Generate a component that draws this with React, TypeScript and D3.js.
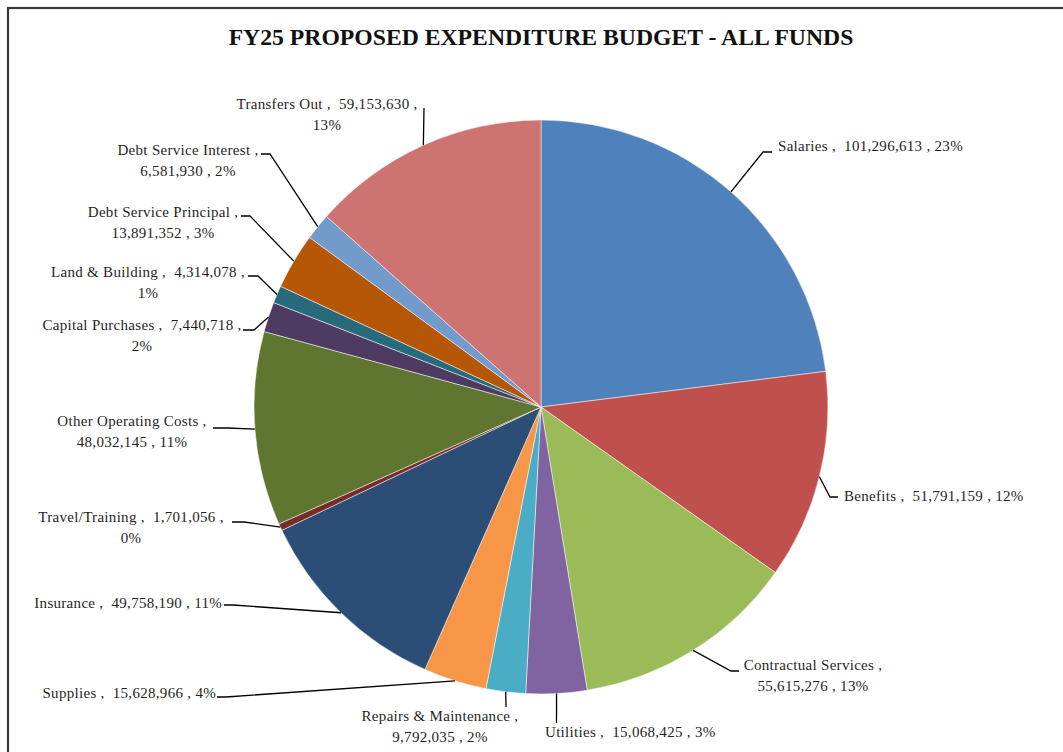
import React from "react";
import * as d3 from "d3";

const title = "FY25 PROPOSED EXPENDITURE BUDGET - ALL FUNDS";
const categories = [
  "Salaries", "Benefits", "Contractual Services", "Utilities", "Repairs & Maintenance",
  "Supplies", "Insurance", "Travel/Training", "Other Operating Costs", "Capital Purchases",
  "Land & Building", "Debt Service Principal", "Debt Service Interest", "Transfers Out",
];
const values = [
  101296613, 51791159, 55615276, 15068425, 9792035,
  15628966, 49758190, 1701056, 48032145, 7440718,
  4314078, 13891352, 6581930, 59153630,
];
const pctLabels = ["23%", "12%", "13%", "3%", "2%", "4%", "11%", "0%", "11%", "2%", "1%", "3%", "2%", "13%"];
const colors = [
  "#4F81BD", "#C0504D", "#9BBB59", "#8064A2", "#4BACC6",
  "#F79646", "#2C4D75", "#772C2A", "#5F7530", "#4D3B62",
  "#276A7C", "#B65708", "#729ACA", "#CD7371",
];

// label layout: text position, alignment, line break, leader elbow/end
type Layout = { x: number; y: number; anchor: string; brk: "none" | "name" | "value"; pts: [number, number][] };
const layout: Layout[] = [
  { x: 778, y: 146, anchor: "start", brk: "none", pts: [[763, 152], [772, 152]] },
  { x: 844, y: 496, anchor: "start", brk: "none", pts: [[830, 497], [838, 497]] },
  { x: 813, y: 665, anchor: "middle", brk: "name", pts: [[731, 671], [739, 671]] },
  { x: 545, y: 732, anchor: "start", brk: "none", pts: [[556.5, 723]] },
  { x: 440, y: 716, anchor: "middle", brk: "name", pts: [[506, 707]] },
  { x: 216, y: 693, anchor: "end", brk: "none", pts: [[226, 697], [217, 697]] },
  { x: 222, y: 603, anchor: "end", brk: "none", pts: [[233, 605], [224, 605]] },
  { x: 131, y: 517, anchor: "middle", brk: "value", pts: [[244, 522], [232, 522]] },
  { x: 132, y: 421, anchor: "middle", brk: "name", pts: [[228, 428], [213, 428]] },
  { x: 142, y: 325, anchor: "middle", brk: "value", pts: [[254, 330], [243, 330]] },
  { x: 148, y: 272, anchor: "middle", brk: "value", pts: [[258, 276], [248, 276]] },
  { x: 163, y: 212, anchor: "middle", brk: "name", pts: [[250, 216], [241, 216]] },
  { x: 188, y: 150, anchor: "middle", brk: "name", pts: [[270, 154], [261, 154]] },
  { x: 327, y: 104, anchor: "middle", brk: "value", pts: [[424, 108]] },
];

const W = 1063, H = 752;
const cx = 541, cy = 407, R = 287;
const font = "'Liberation Serif', 'Times New Roman', serif";
const textColor = "#1f1f1f";

export default function App() {
  const fmt = d3.format(",");
  const pie = d3.pie<number>().sort(null).value((d) => d)(values);
  const arc = d3.arc<d3.PieArcDatum<number>>().innerRadius(0).outerRadius(R);

  return (
    <svg width={W} height={H} style={{ position: "absolute", left: 0, top: 0, background: "#fff" }}>
      <rect x={8} y={8} width={W + 10} height={H + 10} fill="#fff" stroke="#3a3a3a" strokeWidth={2.2} />
      <text x={cx} y={37} textAnchor="middle" dominantBaseline="central" fontFamily={font} fontWeight="bold" fontSize={23.7} fill="#111">
        {title}
      </text>
      <g transform={`translate(${cx},${cy})`}>
        {pie.map((p, i) => (
          <path key={i} d={arc(p) || ""} fill={colors[i]} stroke="#fff" strokeWidth={0.5} />
        ))}
      </g>
      {pie.map((p, i) => {
        const mid = (p.startAngle + p.endAngle) / 2;
        const sx = cx + R * Math.sin(mid);
        const sy = cy - R * Math.cos(mid);
        const L = layout[i];
        const pts: [number, number][] = [[sx, sy], ...L.pts];
        const line = d3.line()(pts) || "";
        const name = categories[i];
        const val = fmt(values[i]);
        const pct = pctLabels[i];
        let lines: string[];
        if (L.brk === "none") lines = [`${name} ,  ${val} , ${pct}`];
        else if (L.brk === "name") lines = [`${name} ,`, `${val} , ${pct}`];
        else lines = [`${name} ,  ${val} ,`, pct];
        return (
          <g key={i}>
            <path d={line} fill="none" stroke="#000" strokeWidth={1.3} />
            {lines.map((t, j) => (
              <text key={j} x={L.x} y={L.y + j * 20.5} textAnchor={L.anchor as any} dominantBaseline="central"
                fontFamily={font} fontSize={15} letterSpacing={0.3} fill={textColor} style={{ whiteSpace: "pre" }}>
                {t}
              </text>
            ))}
          </g>
        );
      })}
    </svg>
  );
}
